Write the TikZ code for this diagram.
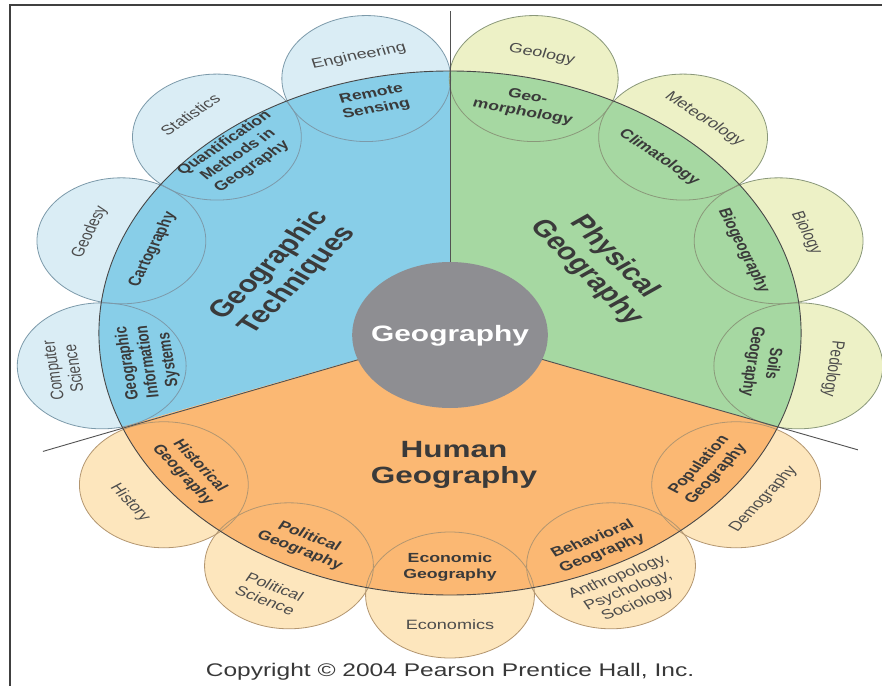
\documentclass[tikz,border=0pt]{standalone}
\usepackage{fontspec}
\setmainfont{Liberation Sans}
\definecolor{bluesec}{HTML}{88CEE8}
\definecolor{lblue}{HTML}{DAEDF5}
\definecolor{greensec}{HTML}{A6D8A2}
\definecolor{lgreen}{HTML}{EDF1C6}
\definecolor{orangesec}{HTML}{FBB873}
\definecolor{lorange}{HTML}{FDE6BD}
\definecolor{greyc}{HTML}{8E8E92}
\definecolor{txt}{HTML}{3A3A3A}
\definecolor{otxt}{HTML}{4C4C4C}
\definecolor{bline}{HTML}{7C9AAA}
\definecolor{gline}{HTML}{8A987A}
\definecolor{oline}{HTML}{B39670}
\newcommand\petal[7]{%
  \pgfmathsetmacro\ro{262+#4}\pgfmathsetmacro\ri{262-#6}%
  \node[outlab, rotate=#3] (#1o) at (#2:\ro) {#5};%
  \node[inlab, rotate=#3] (#1i) at (#2:\ri) {#7};}
\tikzset{
  outlab/.style={transform shape, align=center, text=otxt, inner sep=0pt,
    font=\fontsize{13.5}{15.5}\selectfont},
  inlab/.style={transform shape, align=center, text=txt, inner sep=0pt,
    font=\bfseries\fontsize{13.2}{15.5}\selectfont},
  mainlab/.style={transform shape, align=center, text=txt, inner sep=0pt,
    font=\bfseries\fontsize{23.5}{26}\selectfont},
  circline/.style={line width=0.8pt},
  rimline/.style={draw=black!72, line width=0.9pt},
  sepline/.style={draw=black!68, line width=0.9pt},
  frameline/.style={draw=black!75, line width=1.4pt}
}
\begin{document}
\begin{tikzpicture}[x=1pt,y=1pt]
\useasboundingbox (0,0) rectangle (882,686);
\fill[white] (0,0) rectangle (882,686);
\draw[frameline] (882,681) -- (10,681) -- (10,0);
\begin{scope}[shift={(450,353)}, xscale=1.34]
  % outer petals
  \foreach \a in {103.8,131.6,159.4,187.2} \fill[lblue] (\a:262) circle (63);
  \foreach \a in {76.2,48.4,20.6,-7.2} \fill[lgreen] (\a:262) circle (63);
  \foreach \a in {215.4,242.7,270,297.3,324.6} \fill[lorange] (\a:262) circle (63);
  % sectors
  \fill[bluesec] (0,0) -- (90:262) arc (90:201:262) -- cycle;
  \fill[greensec] (0,0) -- (-21:262) arc (-21:90:262) -- cycle;
  \fill[orangesec] (0,0) -- (201:262) arc (201:339:262) -- cycle;
  % petal outlines
  \foreach \a in {103.8,131.6,159.4,187.2} \draw[circline, bline] (\a:262) circle (63);
  \foreach \a in {76.2,48.4,20.6,-7.2} \draw[circline, gline] (\a:262) circle (63);
  \foreach \a in {215.4,242.7,270,297.3,324.6} \draw[circline, oline] (\a:262) circle (63);
  % rim and separators
  \draw[rimline] (0,0) circle (262);
  \coordinate (c) at (0,0);
  \coordinate (e1) at (90:322);
  \coordinate (e2) at (201.3:326);
  \coordinate (e3) at (-21:326);
  \draw[sepline] (c) -- (e1);
  \draw[sepline] (c) -- (e2);
  \draw[sepline] (c) -- (e3);
  % centre
  \fill[greyc] (0,-2) circle (73);
  \node[transform shape, text=white, font=\bfseries\fontsize{22.3}{25}\selectfont] (geo) at (0,-3) {Geography};
  % main labels
  \node[mainlab, rotate=53] (gt) at (-124,60) {Geographic\\Techniques};
  \node[mainlab, rotate=-53] (pg) at (112,68) {Physical\\Geography};
  \node[mainlab] (hg) at (3,-132) {Human\\Geography};
  % petals: blue
  \petal{eng}{103.8}{13.8}{23}{Engineering}{24}{Remote\\Sensing}
  \petal{sta}{131.6}{41.6}{30}{Statistics}{24}{Quantification\\Methods in\\Geography}
  \petal{gds}{159.4}{69.4}{25}{Geodesy}{25}{Cartography}
  \petal{cs}{187.2}{97.2}{29}{Computer\\Science}{35}{Geographic\\Information\\Systems}
  % petals: green
  \petal{gel}{76.2}{-13.8}{25}{Geology}{27}{Geo-\\morphology}
  \petal{met}{48.4}{-41.6}{24}{Meteorology}{27}{Climatology}
  \petal{bio}{20.6}{-69.4}{22}{Biology}{28}{Biogeography}
  \petal{ped}{-7.2}{-97.2}{26}{Pedology}{27}{Soils\\Geography}
  % petals: orange
  \petal{his}{215.4}{305.4}{31}{History}{25}{Historical\\Geography}
  \petal{pol}{242.7}{332.7}{31}{Political\\Science}{25}{Political\\Geography}
  \petal{eco}{270}{0}{30}{Economics}{28}{Economic\\Geography}
  \petal{beh}{297.3}{27.3}{28}{Anthropology,\\Psychology,\\Sociology}{22}{Behavioral\\Geography}
  \petal{dem}{324.6}{54.6}{25}{Demography}{26}{Population\\Geography}
  % copyright
  \node[transform shape, text=black!78, font=\fontsize{18.3}{20}\selectfont] (copy) at (0,-339) {Copyright \textcopyright\ 2004 Pearson Prentice Hall, Inc.};
\end{scope}
\end{tikzpicture}
\end{document}
